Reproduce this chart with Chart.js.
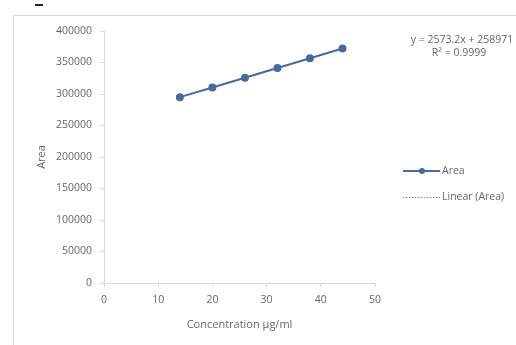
<!DOCTYPE html>
<html><head><meta charset="utf-8">
<script src="https://cdn.jsdelivr.net/npm/chart.js@4/dist/chart.umd.min.js"></script>
<style>html,body{margin:0;padding:0;background:#fff}#wrap{width:516px;height:345px}</style>
</head><body><div id="wrap"><canvas id="c" width="516" height="345"></canvas></div>
<script>
const concentrations = [14, 20, 26, 32, 38, 44];
const areaValues = [295000, 310400, 325900, 341300, 356800, 372200];
const trendValues = [295000, 310400, 325900, 341300, 356800, 372200];
const yTicks = [0, 50000, 100000, 150000, 200000, 250000, 300000, 350000, 400000];
const xTicks = [0, 10, 20, 30, 40, 50];
const equationText = 'y = 2573.2x + 258971';
const r2Text = 'R² = 0.9999';
const seriesLabels = ['Area', 'Linear (Area)'];

const FONT = '"Open Sans", Lato, sans-serif';
const lineColor = '#4a6a9a';
const textColor = '#666666';

const decor = {
  id: 'decor',
  beforeDraw(chart) {
    const ctx = chart.ctx;
    ctx.save();
    ctx.fillStyle = '#fff';
    ctx.fillRect(0, 0, chart.width, chart.height);
    ctx.strokeStyle = '#d9d9d9';
    ctx.lineWidth = 1;
    ctx.beginPath();
    ctx.moveTo(13.5, 345);
    ctx.lineTo(13.5, 15.5);
    ctx.lineTo(516, 15.5);
    ctx.stroke();
    ctx.strokeStyle = '#222';
    ctx.lineWidth = 2;
    ctx.beginPath(); ctx.moveTo(35, 5); ctx.lineTo(43, 5); ctx.stroke();
    ctx.restore();
  },
  afterDraw(chart) {
    const ctx = chart.ctx;
    ctx.save();
    ctx.fillStyle = textColor;
    ctx.font = '10.5px ' + FONT;
    ctx.textAlign = 'center';
    ctx.textBaseline = 'middle';
    ctx.fillText(equationText, 462, 40);
    ctx.fillText(r2Text, 459, 53);
    // legend
    ctx.strokeStyle = lineColor;
    ctx.lineWidth = 2;
    ctx.beginPath(); ctx.moveTo(403, 171); ctx.lineTo(440, 171); ctx.stroke();
    ctx.fillStyle = lineColor;
    ctx.beginPath(); ctx.arc(422, 171, 3, 0, Math.PI * 2); ctx.fill();
    ctx.strokeStyle = '#7a8fb0';
    ctx.lineWidth = 1;
    ctx.setLineDash([1.5, 1.5]);
    ctx.beginPath(); ctx.moveTo(403, 197.5); ctx.lineTo(440, 197.5); ctx.stroke();
    ctx.setLineDash([]);
    ctx.fillStyle = textColor;
    ctx.font = '10.5px ' + FONT;
    ctx.textAlign = 'left';
    ctx.fillText(seriesLabels[0], 442, 171);
    ctx.fillText(seriesLabels[1], 442, 197);
    ctx.restore();
  }
};

new Chart(document.getElementById('c'), {
  type: 'scatter',
  data: {
    datasets: [
      {
        label: seriesLabels[0],
        data: concentrations.map((x, i) => ({x, y: areaValues[i]})),
        showLine: true,
        borderColor: lineColor,
        backgroundColor: lineColor,
        borderWidth: 2,
        pointRadius: 3,
        pointHoverRadius: 3,
        order: 1
      },
      {
        label: seriesLabels[1],
        data: concentrations.map((x, i) => ({x, y: trendValues[i]})),
        showLine: true,
        borderColor: '#7a8fb0',
        borderWidth: 1,
        borderDash: [1.5, 1.5],
        pointRadius: 0,
        order: 2
      }
    ]
  },
  options: {
    responsive: false,
    animation: false,
    events: [],
    layout: { padding: { left: 0, top: 31, right: 141, bottom: 0 } },
    plugins: { legend: { display: false }, tooltip: { enabled: false } },
    scales: {
      x: {
        type: 'linear', min: 0, max: 50,
        afterBuildTicks(s) { s.ticks = xTicks.map(v => ({value: v})); },
        afterFit(s) { s.height = 62; },
        grid: { drawOnChartArea: false, drawTicks: true, tickLength: 4, color: '#d9d9d9' },
        border: { color: '#d9d9d9' },
        ticks: { color: textColor, font: { family: FONT, size: 10.5 }, padding: 7, maxRotation: 0 },
        title: { display: true, text: 'Concentration µg/ml', color: textColor, font: { family: FONT, size: 11 }, padding: { top: 0, bottom: 14 } }
      },
      y: {
        type: 'linear', min: 0, max: 400000,
        afterBuildTicks(s) { s.ticks = yTicks.map(v => ({value: v})); },
        afterFit(s) { s.width = 104; },
        grid: { drawOnChartArea: false, drawTicks: true, tickLength: 4, color: '#d9d9d9' },
        border: { color: '#d9d9d9' },
        ticks: { color: textColor, font: { family: FONT, size: 10.5 }, padding: 8, callback: v => String(v) },
        title: { display: true, text: 'Area', color: textColor, font: { family: FONT, size: 11 }, padding: { top: 35, bottom: 0 } }
      }
    }
  },
  plugins: [decor]
});
</script></body></html>
